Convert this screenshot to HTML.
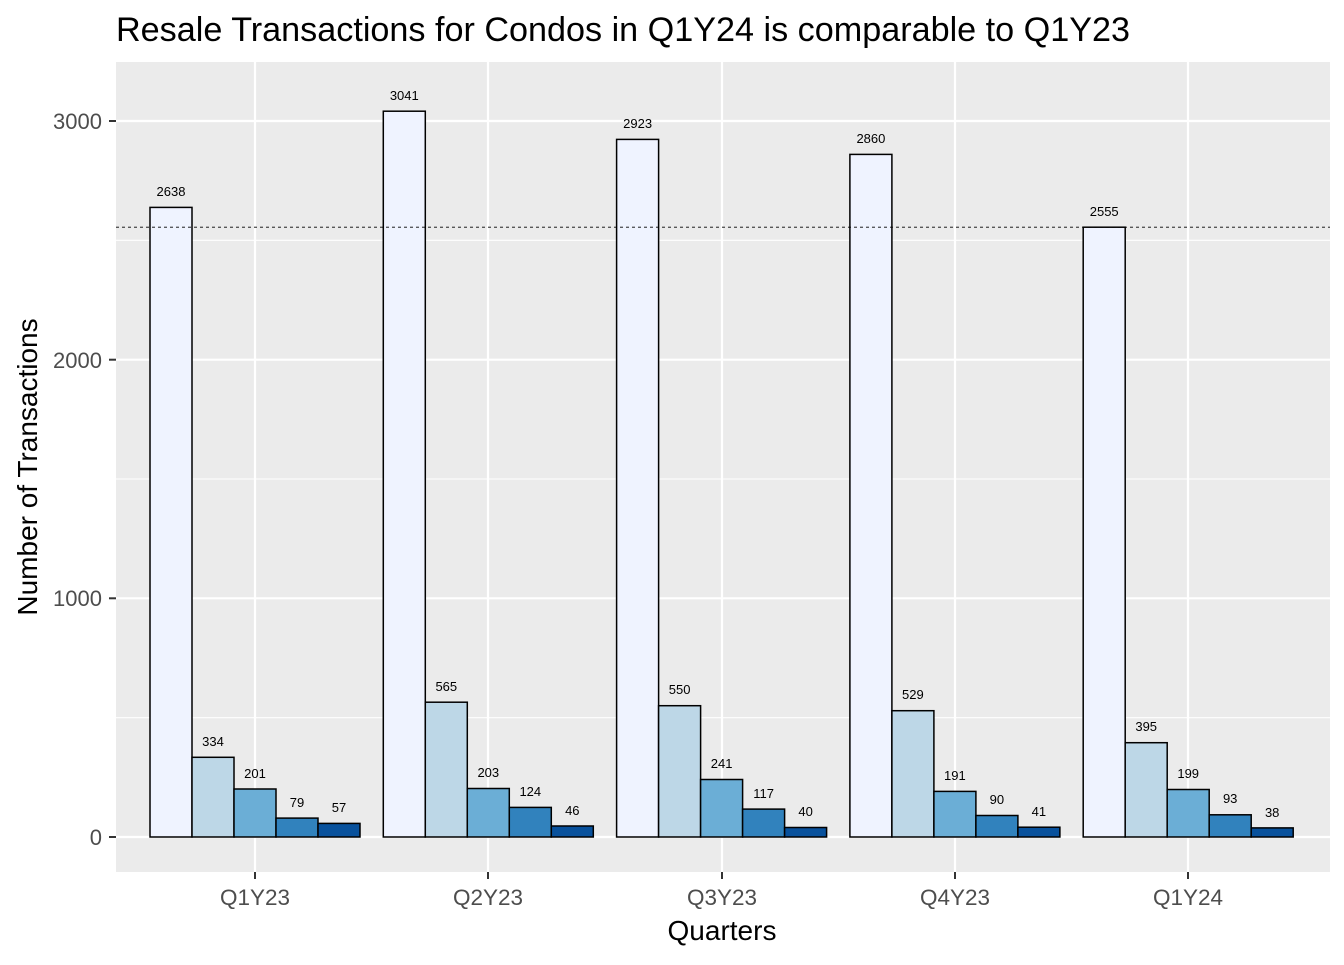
<!DOCTYPE html>
<html><head><meta charset="utf-8"><style>body{margin:0;background:#fff}</style></head>
<body>
<svg width="1344" height="960" xmlns="http://www.w3.org/2000/svg" font-family="Liberation Sans, sans-serif">
<rect width="1344" height="960" fill="#fff"/>
<text x="116" y="41" font-size="34" fill="#000" textLength="1014" lengthAdjust="spacingAndGlyphs">Resale Transactions for Condos in Q1Y24 is comparable to Q1Y23</text>
<rect x="116" y="62" width="1214" height="810" fill="#EBEBEB"/>
<g stroke="#fff" stroke-width="1.1">
<line x1="116" x2="1330" y1="717.7" y2="717.7"/><line x1="116" x2="1330" y1="479" y2="479"/><line x1="116" x2="1330" y1="240.3" y2="240.3"/>
</g>
<g stroke="#fff" stroke-width="2.2">
<line x1="116" x2="1330" y1="837" y2="837"/><line x1="116" x2="1330" y1="598.3" y2="598.3"/><line x1="116" x2="1330" y1="359.7" y2="359.7"/><line x1="116" x2="1330" y1="121" y2="121"/>
<line y1="62" y2="872" x1="255" x2="255"/><line y1="62" y2="872" x1="488" x2="488"/><line y1="62" y2="872" x1="722" x2="722"/><line y1="62" y2="872" x1="955" x2="955"/><line y1="62" y2="872" x1="1188" x2="1188"/>
</g>
<g stroke="#000" stroke-width="1.5">
<rect x="150" y="207.4" width="42" height="629.6" fill="#EFF3FF"/>
<rect x="192" y="757.3" width="42" height="79.7" fill="#BDD7E7"/>
<rect x="234" y="789" width="42" height="48" fill="#6BAED6"/>
<rect x="276" y="818.1" width="42" height="18.9" fill="#3182BD"/>
<rect x="318" y="823.4" width="42" height="13.6" fill="#08519C"/>
<rect x="383.3" y="111.2" width="42" height="725.8" fill="#EFF3FF"/>
<rect x="425.3" y="702.2" width="42" height="134.8" fill="#BDD7E7"/>
<rect x="467.3" y="788.5" width="42" height="48.5" fill="#6BAED6"/>
<rect x="509.3" y="807.4" width="42" height="29.6" fill="#3182BD"/>
<rect x="551.3" y="826" width="42" height="11" fill="#08519C"/>
<rect x="616.6" y="139.4" width="42" height="697.6" fill="#EFF3FF"/>
<rect x="658.6" y="705.7" width="42" height="131.3" fill="#BDD7E7"/>
<rect x="700.6" y="779.5" width="42" height="57.5" fill="#6BAED6"/>
<rect x="742.6" y="809.1" width="42" height="27.9" fill="#3182BD"/>
<rect x="784.6" y="827.5" width="42" height="9.5" fill="#08519C"/>
<rect x="849.9" y="154.4" width="42" height="682.6" fill="#EFF3FF"/>
<rect x="891.9" y="710.7" width="42" height="126.3" fill="#BDD7E7"/>
<rect x="933.9" y="791.4" width="42" height="45.6" fill="#6BAED6"/>
<rect x="975.9" y="815.5" width="42" height="21.5" fill="#3182BD"/>
<rect x="1017.9" y="827.2" width="42" height="9.8" fill="#08519C"/>
<rect x="1083.2" y="227.2" width="42" height="609.8" fill="#EFF3FF"/>
<rect x="1125.2" y="742.7" width="42" height="94.3" fill="#BDD7E7"/>
<rect x="1167.2" y="789.5" width="42" height="47.5" fill="#6BAED6"/>
<rect x="1209.2" y="814.8" width="42" height="22.2" fill="#3182BD"/>
<rect x="1251.2" y="827.9" width="42" height="9.1" fill="#08519C"/>
</g>
<g font-size="13" text-anchor="middle" fill="#000">
<text x="171" y="196">2638</text><text x="213" y="746">334</text><text x="255" y="778">201</text><text x="297" y="807">79</text><text x="339" y="812">57</text>
<text x="404.3" y="100">3041</text><text x="446.3" y="691">565</text><text x="488.3" y="777">203</text><text x="530.3" y="796">124</text><text x="572.3" y="815">46</text>
<text x="637.6" y="128">2923</text><text x="679.6" y="694">550</text><text x="721.6" y="768">241</text><text x="763.6" y="798">117</text><text x="805.6" y="816">40</text>
<text x="870.9" y="143">2860</text><text x="912.9" y="699">529</text><text x="954.9" y="780">191</text><text x="996.9" y="804">90</text><text x="1038.9" y="816">41</text>
<text x="1104.2" y="216">2555</text><text x="1146.2" y="731">395</text><text x="1188.2" y="778">199</text><text x="1230.2" y="803">93</text><text x="1272.2" y="817">38</text>
</g>
<line x1="116" x2="1330" y1="227.2" y2="227.2" stroke="#000" stroke-width="0.8" stroke-dasharray="3,3"/>
<g font-size="22" fill="#4D4D4D" text-anchor="end">
<text x="102" y="845">0</text><text x="102" y="606">1000</text><text x="102" y="368">2000</text><text x="102" y="129">3000</text>
</g>
<g stroke="#333" stroke-width="2"><line x1="109" x2="116" y1="837" y2="837"/><line x1="109" x2="116" y1="598.3" y2="598.3"/><line x1="109" x2="116" y1="359.7" y2="359.7"/><line x1="109" x2="116" y1="121" y2="121"/>
<line y1="872" y2="879" x1="255" x2="255"/><line y1="872" y2="879" x1="488" x2="488"/><line y1="872" y2="879" x1="722" x2="722"/><line y1="872" y2="879" x1="955" x2="955"/><line y1="872" y2="879" x1="1188" x2="1188"/></g>
<g font-size="22.5" fill="#4D4D4D" text-anchor="middle">
<text x="255" y="905">Q1Y23</text><text x="488" y="905">Q2Y23</text><text x="722" y="905">Q3Y23</text><text x="955" y="905">Q4Y23</text><text x="1188" y="905">Q1Y24</text>
</g>
<text x="722" y="940" font-size="28" text-anchor="middle">Quarters</text>
<text transform="translate(37,467) rotate(-90)" font-size="28" text-anchor="middle">Number of Transactions</text>
</svg>
</body></html>
